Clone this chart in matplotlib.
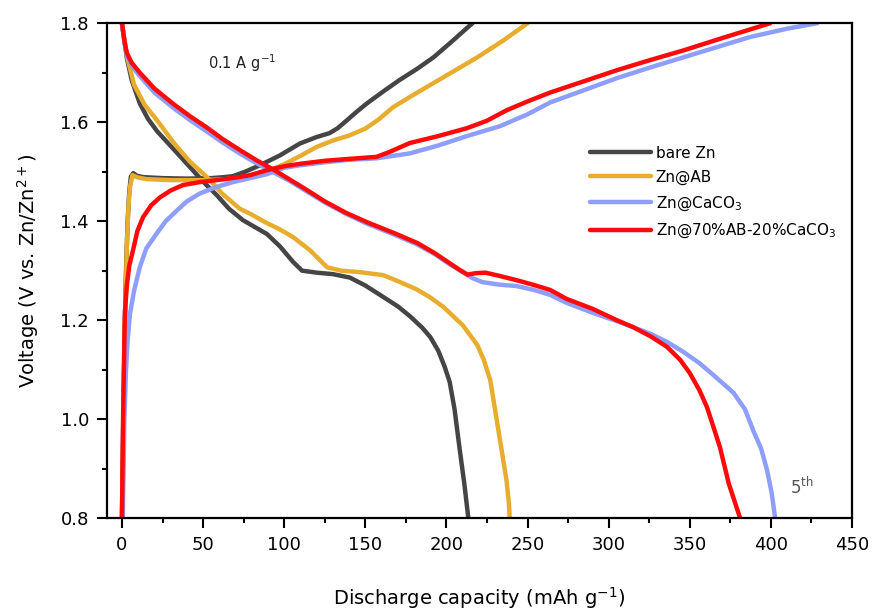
import matplotlib
matplotlib.use("Agg")
import matplotlib.pyplot as plt
from matplotlib.ticker import MultipleLocator

plt.rcParams['font.family'] = ['DejaVu Sans']

# ---- galvanostatic profiles, 5th cycle (capacity in mAh/g, voltage in V) ----
bare_dis_x = [0, 1.5, 3, 6, 11, 16, 21.6, 30, 42, 50, 58.6, 66, 74.6, 82, 89.4, 97.4,
              105.4, 111, 120, 130, 140.5, 150, 161, 170, 177.5, 185, 190, 195, 199,
              202, 205, 208, 211, 213.5]
bare_dis_y = [1.8, 1.765, 1.73, 1.685, 1.638, 1.607, 1.582, 1.552, 1.509, 1.48, 1.452,
              1.425, 1.402, 1.388, 1.374, 1.349, 1.318, 1.300, 1.296, 1.293, 1.286,
              1.270, 1.247, 1.228, 1.208, 1.185, 1.166, 1.138, 1.105, 1.075, 1.02,
              0.943, 0.87, 0.80]
bare_chg_x = [0, 0.8, 1.5, 2.5, 3.5, 4.5, 5.5, 7, 9, 13, 25, 40, 55, 63, 68.4, 76,
              85, 97.4, 109.7, 120, 128, 133, 138.7, 145, 151, 161, 171, 182, 192,
              204, 216]
bare_chg_y = [0.8, 1.0, 1.15, 1.3, 1.4, 1.46, 1.49, 1.497, 1.492, 1.489, 1.487, 1.486,
              1.487, 1.489, 1.491, 1.500, 1.513, 1.533, 1.557, 1.570, 1.578, 1.588,
              1.604, 1.622, 1.638, 1.662, 1.685, 1.708, 1.731, 1.765, 1.8]

ab_dis_x = [0, 1.5, 3, 7.4, 14, 21.6, 32, 42, 52.4, 62, 72.7, 79, 89.4, 97, 105.4,
            116, 126.4, 135, 146.7, 161, 171.4, 181.8, 190, 198, 210, 219, 223, 227,
            233, 237, 238.5, 239]
ab_dis_y = [1.8, 1.765, 1.735, 1.676, 1.635, 1.604, 1.558, 1.52, 1.489, 1.455, 1.425,
            1.415, 1.396, 1.384, 1.368, 1.341, 1.307, 1.300, 1.297, 1.291, 1.277,
            1.262, 1.246, 1.227, 1.190, 1.150, 1.120, 1.079, 0.958, 0.877, 0.83, 0.80]
ab_chg_x = [0, 1, 2, 3, 4, 5, 6.5, 9, 15, 30, 50, 65, 78, 89, 100, 110, 120, 130, 140,
            150, 158, 167, 180, 192, 205, 219, 235, 250]
ab_chg_y = [0.8, 1.0, 1.2, 1.35, 1.43, 1.47, 1.493, 1.489, 1.485, 1.483, 1.483, 1.485,
            1.491, 1.500, 1.515, 1.532, 1.550, 1.563, 1.573, 1.587, 1.605, 1.630,
            1.656, 1.679, 1.704, 1.731, 1.765, 1.8]

ca_dis_x = [0, 1.5, 3, 6, 11, 20, 32, 42, 52, 62, 73, 83, 94, 104, 114, 125, 138, 151,
            167, 182, 193, 202, 210, 216, 222, 232, 243, 254, 264, 274, 290, 305, 315,
            326, 336, 346, 356, 366, 377, 384, 389, 394, 397.6, 400.5, 402.6]
ca_dis_y = [1.8, 1.762, 1.735, 1.714, 1.693, 1.660, 1.628, 1.604, 1.582, 1.559, 1.536,
            1.517, 1.498, 1.480, 1.460, 1.438, 1.415, 1.395, 1.374, 1.353, 1.333,
            1.313, 1.297, 1.285, 1.277, 1.272, 1.269, 1.261, 1.251, 1.235, 1.215,
            1.198, 1.186, 1.172, 1.156, 1.136, 1.113, 1.085, 1.053, 1.02, 0.978,
            0.94, 0.897, 0.85, 0.80]
ca_chg_x = [0.5, 1.5, 2.5, 3.5, 5, 7.5, 11, 15, 21.6, 27, 34, 40, 48, 58, 68.4, 79,
            89.4, 100, 110, 125, 140, 157, 177.5, 195, 212.7, 233, 250, 264, 285, 305,
            325, 346, 367, 387, 410, 428.5]
ca_chg_y = [0.8, 1.0, 1.1, 1.16, 1.214, 1.26, 1.307, 1.345, 1.376, 1.40, 1.422, 1.44,
            1.456, 1.469, 1.479, 1.487, 1.495, 1.508, 1.513, 1.519, 1.524, 1.527,
            1.537, 1.553, 1.572, 1.592, 1.616, 1.640, 1.665, 1.689, 1.710, 1.731,
            1.752, 1.772, 1.789, 1.8]

mix_dis_x = [0, 1.5, 3, 6, 11, 20, 32, 42, 52, 62, 73, 83, 94, 104, 114, 125, 138, 151,
             167, 182, 193, 202, 208, 213, 218, 224, 232, 243, 254, 264, 274, 290, 305,
             315, 326, 336, 344, 350, 356, 360.6, 364, 368.6, 374, 381]
mix_dis_y = [1.8, 1.765, 1.74, 1.72, 1.700, 1.668, 1.636, 1.612, 1.590, 1.566, 1.543,
             1.523, 1.503, 1.483, 1.463, 1.440, 1.417, 1.398, 1.377, 1.356, 1.335,
             1.315, 1.302, 1.292, 1.295, 1.296, 1.290, 1.281, 1.271, 1.261, 1.243,
             1.223, 1.200, 1.186, 1.167, 1.146, 1.120, 1.093, 1.058, 1.024, 0.99,
             0.943, 0.87, 0.80]
mix_chg_x = [0, 0.7, 1.3, 1.8, 3, 4.5, 6.8, 9.5, 13, 18, 23.4, 30, 37.6, 48, 58.6, 70,
             79, 89.4, 100, 110, 125, 140.5, 157, 165, 177.5, 195, 212.7, 225, 237,
             250, 264, 285, 305, 325, 346, 370, 399.5]
mix_chg_y = [0.8, 1.0, 1.12, 1.214, 1.27, 1.31, 1.341, 1.38, 1.408, 1.432, 1.448,
             1.462, 1.473, 1.479, 1.483, 1.488, 1.493, 1.503, 1.511, 1.516, 1.522,
             1.526, 1.530, 1.540, 1.558, 1.572, 1.588, 1.603, 1.624, 1.642, 1.660,
             1.683, 1.705, 1.725, 1.745, 1.770, 1.8]

labels = ['bare Zn', 'Zn@AB', 'Zn@CaCO$_3$', 'Zn@70%AB-20%CaCO$_3$']
colors = ['#454545', '#E8AD2E', '#8E9EFC', '#FF0A0A']

series = [
    (bare_dis_x, bare_dis_y, bare_chg_x, bare_chg_y),
    (ab_dis_x, ab_dis_y, ab_chg_x, ab_chg_y),
    (ca_dis_x, ca_dis_y, ca_chg_x, ca_chg_y),
    (mix_dis_x, mix_dis_y, mix_chg_x, mix_chg_y),
]

fig = plt.figure(figsize=(8.73, 6.11), dpi=100)
ax = fig.add_axes([0.1226, 0.152, 0.8534, 0.810])

lw = 3.2
for (dx, dy, cx, cy), lab, col in zip(series, labels, colors):
    ax.plot(dx, dy, color=col, lw=lw, solid_joinstyle='round',
            solid_capstyle='round', label=lab)
    ax.plot(cx, cy, color=col, lw=lw, solid_joinstyle='round',
            solid_capstyle='round')

ax.set_xlim(-9.2, 450)
ax.set_ylim(0.8, 1.8)
ax.xaxis.set_major_locator(MultipleLocator(50))
ax.xaxis.set_minor_locator(MultipleLocator(25))
ax.yaxis.set_major_locator(MultipleLocator(0.2))
ax.yaxis.set_minor_locator(MultipleLocator(0.1))
ax.tick_params(which='major', direction='out', length=7, width=1.5,
               labelsize=13, pad=6, top=False, right=False)
ax.tick_params(which='minor', direction='out', length=3.5, width=1.5,
               top=False, right=False)
for sp in ax.spines.values():
    sp.set_linewidth(1.6)

ax.set_xlabel('Discharge capacity (mAh g$^{-1}$)', fontsize=14, labelpad=22)
ax.set_ylabel('Voltage (V vs. Zn/Zn$^{2+}$)', fontsize=14, labelpad=14)

ax.text(74, 1.72, '0.1 A g$^{-1}$', fontsize=10.5, ha='center', va='center',
        color='#222222')
ax.text(419, 0.862, '5$^{\\mathregular{th}}$', fontsize=12, ha='center', va='center',
        color='#555555')

leg = ax.legend(loc='upper left', bbox_to_anchor=(0.64, 0.765), frameon=False,
                fontsize=11, handlelength=4.0, handletextpad=0.3,
                labelspacing=0.6, borderaxespad=0)

fig.savefig('out.png', dpi=100)
